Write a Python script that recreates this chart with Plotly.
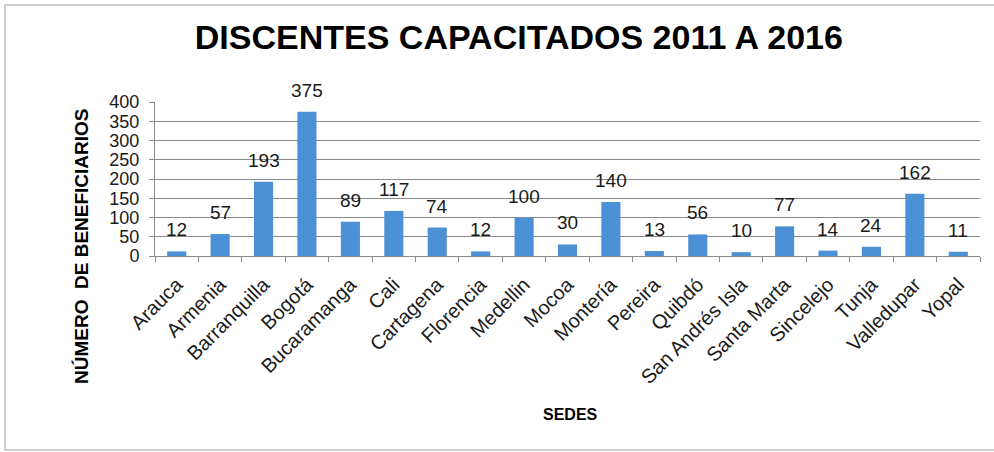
import plotly.graph_objects as go

sedes = ["Arauca", "Armenia", "Barranquilla", "Bogotá", "Bucaramanga", "Cali",
         "Cartagena", "Florencia", "Medellin", "Mocoa", "Montería", "Pereira",
         "Quibdó", "San Andrés Isla", "Santa Marta", "Sincelejo", "Tunja",
         "Valledupar", "Yopal"]
beneficiarios = [12, 57, 193, 375, 89, 117, 74, 12, 100, 30, 140, 13, 56, 10, 77, 14, 24, 162, 11]
y_ticks = [0, 50, 100, 150, 200, 250, 300, 350, 400]

W, H = 994, 452
L, R, T, B = 155, 14, 102, 196
pw, ph = W - L - R, H - T - B
FONT = "Liberation Sans, Arial, sans-serif"

def px_x(p):
    return (p - L) / pw

def px_y(p):
    return (H - B - p) / ph

fig = go.Figure(go.Bar(
    x=sedes, y=beneficiarios,
    marker=dict(color="#4C90D6", line=dict(width=0)),
    width=0.44, hoverinfo="x+y",
))

for s, v in zip(sedes, beneficiarios):
    fig.add_annotation(x=s, y=v, text=str(v), showarrow=False, yanchor="bottom",
                       yshift=9, font=dict(size=19, color="#1a1a1a", family=FONT))

fig.update_layout(
    width=W, height=H, margin=dict(l=L, r=R, t=T, b=B, autoexpand=False),
    paper_bgcolor="white", plot_bgcolor="white", showlegend=False,
    title=dict(text="<b>DISCENTES CAPACITADOS 2011 A 2016</b>", x=0.522, xanchor="center",
               y=1 - 37 / H, yanchor="middle",
               font=dict(size=34, color="black", family=FONT)),
    font=dict(family=FONT, color="#1a1a1a"),
)
fig.update_xaxes(
    type="category", tickangle=-45, tickson="boundaries", ticks="outside",
    ticklen=5, tickcolor="#8a8a8a", showline=True, linecolor="#8a8a8a", linewidth=1,
    tickfont=dict(size=20, color="#1a1a1a"), showgrid=False, automargin=False,
    ticklabelstandoff=8,
)
fig.update_yaxes(
    range=[0, 400], tickvals=y_ticks, ticks="outside", ticklen=5, tickcolor="#8a8a8a",
    showline=True, linecolor="#8a8a8a", linewidth=1, showgrid=True, gridcolor="#8a8a8a",
    gridwidth=1, tickfont=dict(size=18, color="#1a1a1a"), ticklabelstandoff=6,
    zeroline=False, automargin=False,
)
fig.add_annotation(text="<b>NÚMERO  DE BENEFICIARIOS</b>", textangle=-90,
                   xref="paper", yref="paper", x=px_x(81), y=px_y(246),
                   xanchor="center", yanchor="middle",
                   showarrow=False, font=dict(size=19, color="black"))
fig.add_annotation(text="<b>SEDES</b>", xref="paper", yref="paper",
                   x=px_x(570), y=px_y(414), xanchor="center", yanchor="middle",
                   showarrow=False, font=dict(size=16, color="black"))
fig.add_shape(type="rect", xref="paper", yref="paper",
              x0=px_x(5), x1=px_x(1000), y0=px_y(450), y1=px_y(5),
              line=dict(color="#bdbdbd", width=1.5), fillcolor="rgba(0,0,0,0)")

fig.write_html("out.html", config={"displayModeBar": False},
               post_script="document.body.style.margin='0';")
